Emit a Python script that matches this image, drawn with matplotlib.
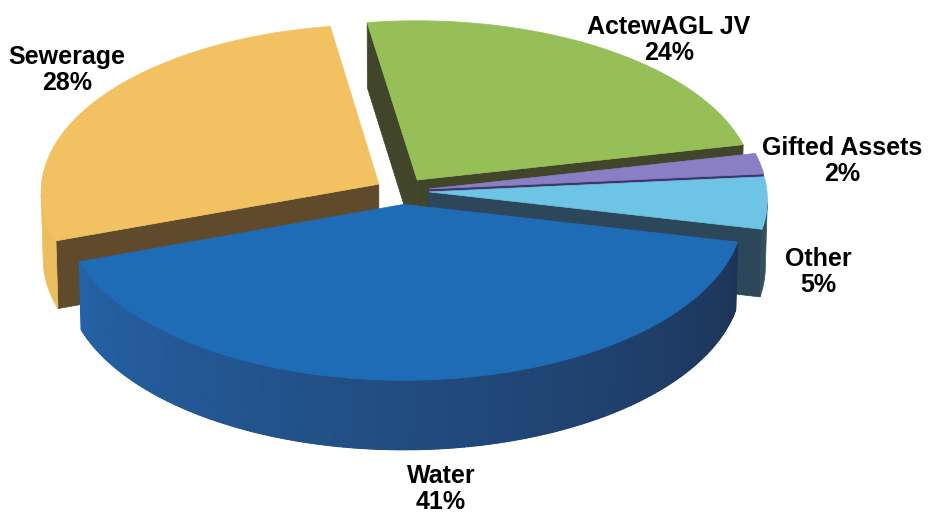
import numpy as np
import matplotlib.pyplot as plt
from matplotlib.patches import Polygon

# Slice data, listed counter-clockwise starting at the left edge of Water
labels = ["Water", "Other", "Gifted Assets", "ActewAGL JV", "Sewerage"]
shares = [41, 5, 2, 24, 28]
start_angle = -160.4  # degrees

top_colors = ["#1F6CB6", "#6EC4E4", "#8A7FC4", "#96BF58", "#F2C262"]
radial_colors = ["#1E3F6E", "#2C4759", "#3E3569", "#41452A", "#5F4B2B"]
outer_colors = ["#2562A6", "#33505F", "#6A5FA0", "#6F8F40", "#EDBE5E"]
water_wall_dark = "#1D3457"

label_pos = {
    "Water": (441, 489),
    "Other": (818, 272),
    "Gifted Assets": (842, 161),
    "ActewAGL JV": (669, 40),
    "Sewerage": (67, 70),
}

# 3D pie geometry (unit radius)
thickness = 0.23
explode = 0.08
elev = np.radians(30.2)
dist = 20.0
radius_px = 336.0
centre_px = (402.0, 191.0)

v = np.array([0.0, np.cos(elev), -np.sin(elev)])
u = np.array([1.0, 0.0, 0.0])
w = np.array([0.0, np.sin(elev), np.cos(elev)])
cam = -dist * v
scale = radius_px * dist


def _raw(p):
    rel = np.asarray(p, float) - cam
    depth = rel @ v
    return scale * (rel @ u) / depth, scale * (rel @ w) / depth


_ox, _oy = _raw((0, 0, thickness))


def proj(p):
    x, y = _raw(p)
    return centre_px[0] + x - _ox, centre_px[1] - (y - _oy)


def mix(c1, c2, f):
    a = np.array([int(c1[i:i + 2], 16) for i in (1, 3, 5)]) / 255
    b = np.array([int(c2[i:i + 2], 16) for i in (1, 3, 5)]) / 255
    return tuple(a + (b - a) * f)


fig = plt.figure(figsize=(9.29, 5.14), dpi=100)
ax = fig.add_axes([0, 0, 1, 1])
ax.set_xlim(0, 929)
ax.set_ylim(514, 0)
ax.axis("off")

fracs = np.array(shares, float) / np.sum(shares)
edges = np.radians(start_angle + 360 * np.concatenate([[0], np.cumsum(fracs)]))

slices = []
for i in range(len(shares)):
    a1, a2 = edges[i], edges[i + 1]
    mid = 0.5 * (a1 + a2)
    off = explode * np.array([np.cos(mid), np.sin(mid)])
    slices.append((np.sin(mid), i, a1, a2, off))

# paint back slices first
for _, i, a1, a2, off in sorted(slices, key=lambda s: -s[0]):
    ox, oy = off
    cam_xy = cam[:2]

    # radial walls
    for ang, sign in ((a1, -1), (a2, 1)):
        n = sign * np.array([-np.sin(ang), np.cos(ang)])
        if n @ (cam_xy - off) > 0:
            ex, ey = ox + np.cos(ang), oy + np.sin(ang)
            pts = [proj((ox, oy, 0)), proj((ex, ey, 0)),
                   proj((ex, ey, thickness)), proj((ox, oy, thickness))]
            ax.add_patch(Polygon(pts, closed=True, facecolor=radial_colors[i],
                                 edgecolor=radial_colors[i], lw=0.5))

    # outer curved wall: visible arc range, then shaded strips on top
    ts = np.linspace(a1, a2, 240)
    vis = []
    for k in range(len(ts) - 1):
        tm = 0.5 * (ts[k] + ts[k + 1])
        p = np.array([ox + np.cos(tm), oy + np.sin(tm)])
        if np.array([np.cos(tm), np.sin(tm)]) @ (cam_xy - p) > 0:
            vis.append(k)
    if vis:
        tv = ts[vis[0]:vis[-1] + 2]
        base = ([proj((ox + np.cos(t), oy + np.sin(t), 0)) for t in tv] +
                [proj((ox + np.cos(t), oy + np.sin(t), thickness))
                 for t in tv[::-1]])
        mid_col = (mix(outer_colors[i], water_wall_dark, 0.5)
                   if labels[i] == "Water" else outer_colors[i])
        ax.add_patch(Polygon(base, closed=True, facecolor=mid_col,
                             edgecolor=mid_col, lw=0.5))
        if labels[i] == "Water":
            for k in vis:
                tm = 0.5 * (ts[k] + ts[k + 1])
                col = mix(outer_colors[i], water_wall_dark,
                          (tm - a1) / (a2 - a1))
                pts = [proj((ox + np.cos(t), oy + np.sin(t), z))
                       for t, z in ((ts[k], 0), (ts[k + 1], 0),
                                    (ts[k + 1], thickness), (ts[k], thickness))]
                ax.add_patch(Polygon(pts, closed=True, facecolor=col,
                                     edgecolor=col, lw=1.0))

    # top face
    pts = [proj((ox, oy, thickness))] + [
        proj((ox + np.cos(t), oy + np.sin(t), thickness)) for t in ts]
    ax.add_patch(Polygon(pts, closed=True, facecolor=top_colors[i],
                         edgecolor=top_colors[i], lw=0.5))

for name, share in zip(labels, shares):
    x, y = label_pos[name]
    ax.text(x, y, f"{name}\n{share}%", ha="center", va="center",
            multialignment="center", fontsize=18, fontweight="bold",
            family="Liberation Sans", color="black", linespacing=1.15)

fig.savefig("out.png", dpi=100)
